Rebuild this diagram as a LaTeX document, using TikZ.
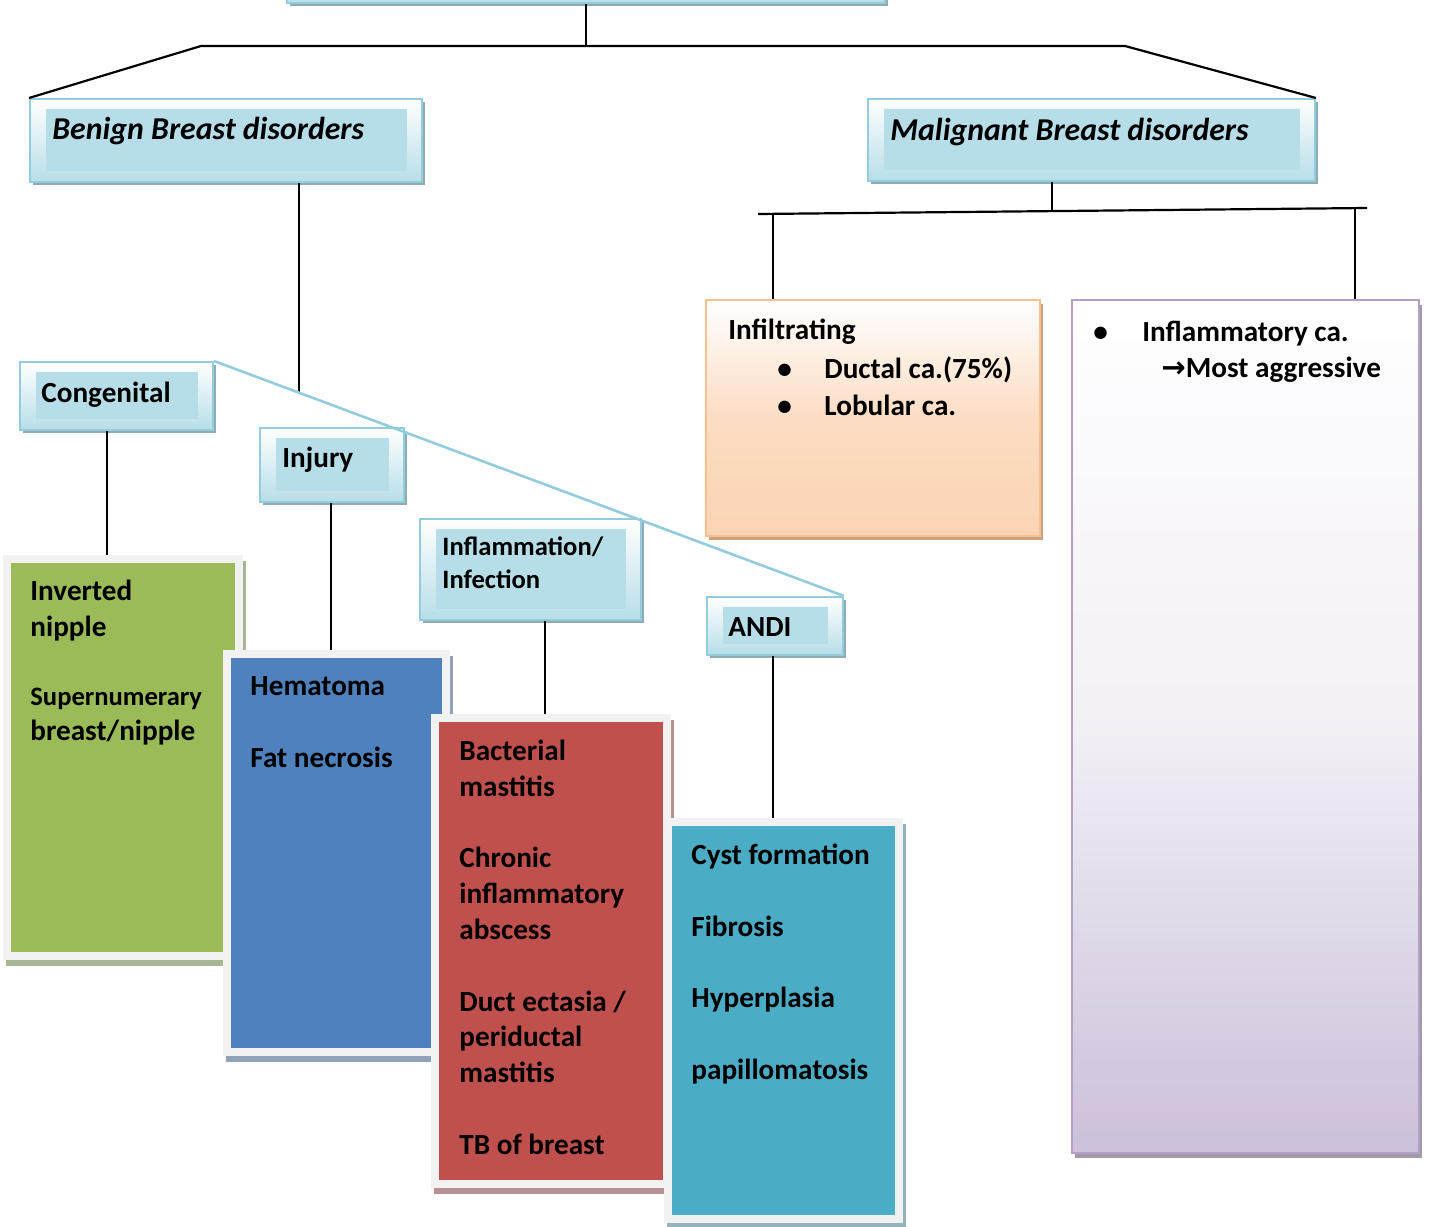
\documentclass[tikz,border=0pt]{standalone}
\usepackage{fontspec}
\setmainfont{Carlito}
\newfontfamily\arrowfont{DejaVu Sans}
\usetikzlibrary{fit,calc,shadows}

\definecolor{lbfill}{HTML}{B7DEE8}
\definecolor{lbline}{HTML}{93CDDD}
\definecolor{lbshadow}{HTML}{8FABB4}
\definecolor{framegray}{HTML}{F2F2F2}
\definecolor{greenfill}{HTML}{9BBB59}
\definecolor{greenshadow}{HTML}{A6B592}
\definecolor{bluefill}{HTML}{4F81BD}
\definecolor{blueshadow}{HTML}{8EA2BA}
\definecolor{redfill}{HTML}{C0504D}
\definecolor{redshadow}{HTML}{B79191}
\definecolor{tealfill}{HTML}{4BACC6}
\definecolor{tealshadow}{HTML}{93B3BD}
\definecolor{peachfill}{HTML}{FBD4B4}
\definecolor{peachline}{HTML}{FAC090}
\definecolor{peachshadow}{HTML}{C9A183}
\definecolor{lilacfill}{HTML}{CCC0DA}
\definecolor{lilacline}{HTML}{B2A1C7}
\definecolor{lilacshadow}{HTML}{A09AA8}

\newcommand\bodyfont{\fontsize{14.6}{17.9}\selectfont\bfseries}
\newcommand\smallbody{\fontsize{13.3}{16.5}\selectfont\bfseries}
\newcommand\titlefont{\fontsize{15.9}{19}\selectfont\bfseries\itshape}
% flat inner panel of a light-blue category box
\newcommand\lbcore[1]{\fill[lbfill] ($(#1.north west)+(17,11)$) rectangle ($(#1.south east)+(-16,-12)$);}
% coloured panel inside a grey-framed list box
\newcommand\colcore[2]{\fill[#1] ($(#2.north west)+(8,8)$) rectangle ($(#2.south east)+(-8,-8)$);}

\begin{document}
\begin{tikzpicture}[x=0.5pt,y=-0.5pt,
  conn/.style={draw=black, line width=1.1pt},
  bracket/.style={draw=lbline, line width=1.3pt},
  lbbox/.style={draw=lbline, line width=1pt, top color=white, bottom color=lbfill,
    inner sep=0pt, drop shadow={shadow xshift=1.5pt, shadow yshift=-1.5pt, fill=lbshadow, opacity=1}},
  colframe/.style={fill=framegray, inner sep=0pt,
    drop shadow={shadow xshift=1.5pt, shadow yshift=-3pt, fill=#1, opacity=1}},
  infilbox/.style={draw=peachline, line width=1pt, top color=white, bottom color=peachfill,
    middle color=peachfill!80!white, inner sep=0pt,
    drop shadow={shadow xshift=1.5pt, shadow yshift=-2pt, fill=peachshadow, opacity=1}},
  inflambox/.style={draw=lilacline, line width=1pt, top color=white, bottom color=lilacfill,
    middle color=lilacfill!25!white, inner sep=0pt,
    drop shadow={shadow xshift=1.5pt, shadow yshift=-2.5pt, fill=lilacshadow, opacity=1}},
  label/.style={inner sep=0pt, anchor=base west, font=\bodyfont},
  title/.style={inner sep=0pt, anchor=base west, font=\titlefont},
  block/.style={inner sep=0pt, anchor=north west, align=left, font=\bodyfont},
]
\useasboundingbox (0,0) rectangle (1429,1226);
\clip (0,0) rectangle (1429,1226);

% ---------- junction points ----------
\coordinate (hl) at (201,46);
\coordinate (hr) at (1125,46);
\coordinate (bj) at (299,394);
\coordinate (ml) at (758,214);
\coordinate (mr) at (1367,208);
\coordinate (mj) at (1052,211);
\coordinate (m1) at (773,213.8);
\coordinate (m2) at (1355,208.1);
\coordinate (x1) at (107,0);
\coordinate (x2) at (331,0);
\coordinate (x3) at (545,0);
\coordinate (x4) at (773,0);

% ---------- top level ----------
\node[lbbox, fit={(287,-40) (885,3)}] (root) {};
\node[lbbox, fit={(30,99) (422,182)}] (benign) {};
\lbcore{benign}
\node[title] (benignt) at (52,139) {Benign Breast disorders};
\node[lbbox, fit={(868,99) (1315,181)}] (malig) {};
\lbcore{malig}
\node[title] (maligt) at (890,140) {Malignant Breast disorders};

\draw[conn] (root.south) -- (root.south |- hl);
\draw[conn] (benign.north west) -- (hl) -- (hr) -- (malig.north east);

% ---------- malignant branch ----------
\draw[conn] (malig.south -| mj) -- (mj);
\draw[conn] (ml) -- (mr);
\node[infilbox, fit={(706,300) (1040,536)}] (infil) {};
\node[inflambox, fit={(1072,300) (1419,1153)}] (inflam) {};
\draw[conn] (m1) -- (infil.north -| m1);
\draw[conn] (m2) -- (inflam.north -| m2);

\node[label] (infilt) at (728,339) {Infiltrating};
\node[block, font=\fontsize{14.6}{18.6}\selectfont\bfseries] (infill) at (777,352)
  {\strut\makebox[23.5pt][l]{\textbullet}Ductal ca.(75\%)\\\makebox[23.5pt][l]{\textbullet}Lobular ca.};
\node[block, font=\fontsize{14.6}{18}\selectfont\bfseries] (inflamt) at (1093,316)
  {\strut\makebox[24.5pt][l]{\textbullet}Inflammatory ca.\\\hspace{34pt}{\arrowfont\bfseries →}Most aggressive};

% ---------- benign branch ----------
\draw[conn] (benign.south -| bj) -- (bj);

\node[lbbox, fit={(20,362) (213,430)}] (cong) {};
\lbcore{cong}
\node[label] (congt) at (41,402) {Congenital};
\node[lbbox, fit={(260,428) (404,502)}] (inj) {};
\lbcore{inj}
\node[label] (injt) at (282,467) {Injury};
\node[lbbox, fit={(420,519) (641,620)}] (infl) {};
\lbcore{infl}
\node[block, font=\fontsize{13.3}{16.5}\selectfont\bfseries] (inflt) at (442,532) {\strut Inflammation/\\Infection};
\node[lbbox, fit={(707,597) (843,655)}] (andi) {};
\lbcore{andi}
\node[label] (andit) at (728,636) {ANDI};

\draw[bracket] (cong.north east) -- (andi.north east);

\draw[conn] (cong.south -| x1) -- (x1 |- 0,557);
\draw[conn] (inj.south -| x2) -- (x2 |- 0,658);
\draw[conn] (infl.south -| x3) -- (x3 |- 0,718);
\draw[conn] (andi.south -| x4) -- (x4 |- 0,822);

% ---------- disorder lists ----------
\node[colframe=greenshadow, fit={(3,555) (243,960)}] (green) {};
\colcore{greenfill}{green}
\node[block] (greent) at (30,575) {\strut Inverted\\nipple};
\node[inner sep=0pt, anchor=base west, font=\smallbody] (greens) at (30,705) {Supernumerary};
\node[label] (greenb) at (30,740) {breast/nipple};

\node[colframe=blueshadow, fit={(223,650) (450,1056)}] (blue) {};
\colcore{bluefill}{blue}
\node[block] (bluet) at (250,670) {\strut Hematoma\\[17.9pt]Fat necrosis};

\node[colframe=redshadow, fit={(431,714) (671,1188)}] (red) {};
\colcore{redfill}{red}
\node[block] (redt) at (459,735)
  {\strut Bacterial\\mastitis\\[17.9pt]Chronic\\inflammatory\\abscess\\[17.9pt]Duct ectasia /\\periductal\\mastitis\\[17.9pt]TB of breast};

\node[colframe=tealshadow, fit={(664,818) (903,1223)}] (teal) {};
\colcore{tealfill}{teal}
\node[block] (tealt) at (691,839)
  {\strut Cyst formation\\[17.9pt]Fibrosis\\[17.9pt]Hyperplasia\\[17.9pt]papillomatosis};
\end{tikzpicture}
\end{document}
